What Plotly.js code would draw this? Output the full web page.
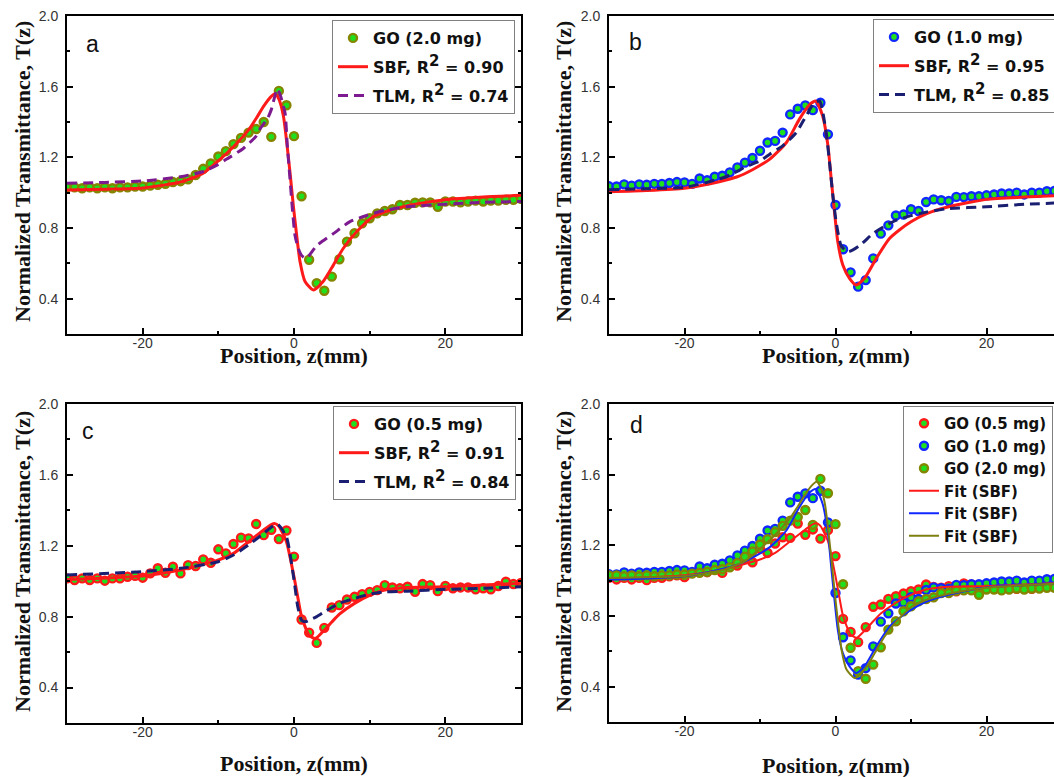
<!DOCTYPE html>
<html>
<head>
<meta charset="utf-8">
<script src="https://cdn.plot.ly/plotly-3.0.1.min.js"></script>
<style>
html,body{margin:0;padding:0;overflow:hidden;background:#fff;}
#chart{width:1070px;height:777px;}
</style>
</head>
<body>
<div id="chart"></div>
<script>
// ---------- data ----------
const zPos = [-30,-29,-28,-27,-26,-25,-24,-23,-22,-21,-20,-19,-18,-17,-16,-15,-14,-13,-12,-11,-10,-9,-8,-7,-6,-5,-4,-3,-2,-1,0,1,2,3,4,5,6,7,8,9,10,11,12,13,14,15,16,17,18,19,20,21,22,23,24,25,26,27,28,29,30];

// GO (2.0 mg)
const go20 = [1.03,1.03,1.025,1.03,1.025,1.03,1.025,1.03,1.03,1.035,1.035,1.04,1.045,1.05,1.06,1.065,1.075,1.10,1.135,1.165,1.205,1.235,1.275,1.31,1.34,1.36,1.40,1.316,1.576,1.495,1.32,0.98,0.62,0.488,0.445,0.525,0.623,0.723,0.77,0.827,0.855,0.883,0.896,0.906,0.93,0.93,0.943,0.945,0.945,0.92,0.95,0.95,0.945,0.95,0.955,0.95,0.955,0.955,0.96,0.96,0.965];
// GO (1.0 mg)
const go10 = [1.036,1.035,1.047,1.04,1.047,1.045,1.05,1.05,1.055,1.06,1.058,1.05,1.08,1.07,1.09,1.096,1.115,1.143,1.17,1.196,1.237,1.284,1.293,1.34,1.443,1.475,1.494,1.467,1.509,1.33,0.93,0.68,0.549,0.468,0.505,0.628,0.768,0.815,0.871,0.876,0.906,0.896,0.947,0.962,0.957,0.953,0.976,0.975,0.98,0.98,0.985,0.99,0.995,0.995,1.0,0.99,1.0,1.0,1.008,1.01,1.01];
// GO (0.5 mg)
const go05 = [1.016,1.007,1.016,1.007,1.016,1.003,1.016,1.016,1.025,1.03,1.02,1.044,1.073,1.048,1.082,1.044,1.091,1.086,1.123,1.104,1.18,1.157,1.21,1.246,1.242,1.323,1.26,1.29,1.238,1.286,1.139,0.784,0.71,0.652,0.737,0.852,0.865,0.897,0.912,0.927,0.94,0.95,0.978,0.965,0.96,0.969,0.94,0.984,0.978,0.944,0.973,0.96,0.965,0.965,0.954,0.96,0.954,0.973,0.997,0.984,0.99];

// SBF fit, 2.0 mg
const sbf20_z = [-30,-25,-20,-15,-12,-10,-8,-6,-5,-4,-3,-2.5,-2,-1.4,-0.53,-0.09,0.35,0.8,1.46,2.56,3.9,5.2,6.5,8.3,10.5,13,16,20,25,30];
const sbf20_T = [1.015,1.02,1.027,1.06,1.11,1.18,1.26,1.355,1.42,1.49,1.545,1.56,1.53,1.434,1.115,0.927,0.759,0.609,0.497,0.449,0.50,0.59,0.684,0.78,0.865,0.905,0.935,0.96,0.975,0.985];
// TLM fit, 2.0 mg
const tlm20_z = [-30,-25,-20,-15,-12,-10,-8.9,-6.7,-5,-4.5,-3.5,-3,-2.2,-1.8,-1.19,-0.88,-0.53,-0.18,0.13,0.57,1.0,1.6,3.0,5.2,7.4,9.6,12,15,20,25,30];
const tlm20_T = [1.053,1.058,1.066,1.09,1.12,1.16,1.19,1.25,1.32,1.36,1.42,1.47,1.588,1.55,1.453,1.265,1.078,0.89,0.759,0.684,0.645,0.628,0.70,0.768,0.836,0.871,0.90,0.92,0.935,0.945,0.95];

// SBF fit, 1.0 mg
const sbf10_z = [-30,-25,-20,-15.4,-13,-11,-8.7,-6.5,-4.8,-3.4,-2.6,-1.7,-1.0,-0.57,-0.13,0.31,0.97,1.85,2.74,3.84,5.4,7.15,8.5,10,12,15,20,25,30];
const sbf10_T = [1.005,1.012,1.025,1.062,1.09,1.13,1.19,1.284,1.415,1.50,1.518,1.434,1.265,1.078,0.89,0.72,0.59,0.515,0.477,0.515,0.628,0.74,0.79,0.835,0.88,0.92,0.962,0.975,0.985];
// TLM fit, 1.0 mg
const tlm10_z = [-30,-25,-20,-16,-14,-12,-10,-8.7,-7,-5.2,-3.9,-2.8,-2.1,-1.24,-0.79,-0.35,0.09,0.75,1.63,3.18,4.94,6.7,8,10,12,15,20,25,30];
const tlm10_T = [1.017,1.022,1.03,1.07,1.098,1.145,1.18,1.218,1.265,1.34,1.434,1.509,1.518,1.34,1.17,0.984,0.834,0.70,0.665,0.70,0.768,0.815,0.843,0.87,0.89,0.91,0.92,0.934,0.943];

// SBF fit, 0.5 mg
const sbf05_z = [-30,-20,-15,-10,-8,-6,-4,-3,-2.5,-2,-1,0,0.5,1,2,2.8,4,5,6,8,10,12,15,20,25,30];
const sbf05_T = [1.01,1.03,1.063,1.12,1.157,1.223,1.29,1.32,1.325,1.31,1.223,1.025,0.91,0.80,0.695,0.677,0.724,0.77,0.814,0.875,0.92,0.95,0.965,0.969,0.978,0.988];
// TLM fit, 0.5 mg
const tlm05_z = [-30,-20,-15,-10,-8,-6,-4,-3,-2.2,-1,0,0.5,1,1.5,2,3,4,5,6,8,10,12,15,20,25,30];
const tlm05_T = [1.035,1.054,1.073,1.11,1.148,1.205,1.27,1.305,1.323,1.25,1.007,0.856,0.78,0.771,0.78,0.80,0.827,0.852,0.875,0.903,0.927,0.94,0.944,0.954,0.96,0.969];

// tick labels
const xTickVals = [-20, 0, 20];
const xTickText = ['-20', '0', '20'];
const yTickVals = [0.4, 0.8, 1.2, 1.6, 2.0];
const yTickText = ['0.4', '0.8', '1.2', '1.6', '2.0'];

const panelLabels = ['a','b','c','d'];
const SUP2 = '<sup><span style="font-size:15px">2</span></sup>';
const legendNames = {
  go20:'<b>GO (2.0 mg)</b>', go10:'<b>GO (1.0 mg)</b>', go05:'<b>GO (0.5 mg)</b>',
  sbfA:'<b>SBF, R'+SUP2+' = 0.90</b>', tlmA:'<b>TLM, R'+SUP2+' = 0.74</b>',
  sbfB:'<b>SBF, R'+SUP2+' = 0.95</b>', tlmB:'<b>TLM, R'+SUP2+' = 0.85</b>',
  sbfC:'<b>SBF, R'+SUP2+' = 0.91</b>', tlmC:'<b>TLM, R'+SUP2+' = 0.84</b>',
  fit:'<b>Fit (SBF)</b>'
};
const yTitle = 'Normalized Transmittance, T(z)';
const xTitle = 'Position, z(mm)';

// ---------- styles ----------
const W = 1070, H = 777;
const GREEN = '#1fe01f';
const C_OLIVE = '#858500', C_BLUE = '#1028ff', C_RED = '#ff1a1a';
const C_PURPLE = '#7d1a8f', C_NAVY = '#1a1f72';

function dots(x, y, name, edge, xa, ya, leg, grp){
  return {type:'scatter', mode:'markers', x, y, name, xaxis:xa, yaxis:ya, legend:leg, legendgroup:grp,
    marker:{size:8, color:GREEN, line:{color:edge, width:2.4}}, cliponaxis:true};
}
function line(x, y, name, color, width, dash, xa, ya, leg, grp){
  return {type:'scatter', mode:'lines', x, y, name, xaxis:xa, yaxis:ya, legend:leg, legendgroup:grp,
    line:{color, width, dash: dash || 'solid', shape:'spline', smoothing:0.6}};
}
const DASH = '10px,6px';

const traces = [
  dots(zPos, go20, legendNames.go20, C_OLIVE, 'x', 'y', 'legend', 'a1'),
  line(sbf20_z, sbf20_T, legendNames.sbfA, C_RED, 3, null, 'x', 'y', 'legend', 'a2'),
  line(tlm20_z, tlm20_T, legendNames.tlmA, C_PURPLE, 3, DASH, 'x', 'y', 'legend', 'a3'),

  dots(zPos, go10, legendNames.go10, C_BLUE, 'x2', 'y2', 'legend2', 'b1'),
  line(sbf10_z, sbf10_T, legendNames.sbfB, C_RED, 3, null, 'x2', 'y2', 'legend2', 'b2'),
  line(tlm10_z, tlm10_T, legendNames.tlmB, C_NAVY, 3, DASH, 'x2', 'y2', 'legend2', 'b3'),

  dots(zPos, go05, legendNames.go05, C_RED, 'x3', 'y3', 'legend3', 'c1'),
  line(sbf05_z, sbf05_T, legendNames.sbfC, C_RED, 3, null, 'x3', 'y3', 'legend3', 'c2'),
  line(tlm05_z, tlm05_T, legendNames.tlmC, C_NAVY, 3, DASH, 'x3', 'y3', 'legend3', 'c3'),

  dots(zPos, go05, legendNames.go05, C_RED, 'x4', 'y4', 'legend4', 'd1'),
  dots(zPos, go10, legendNames.go10, C_BLUE, 'x4', 'y4', 'legend4', 'd2'),
  dots(zPos, go20, legendNames.go20, C_OLIVE, 'x4', 'y4', 'legend4', 'd3'),
  line(sbf05_z, sbf05_T, legendNames.fit, C_RED, 2, null, 'x4', 'y4', 'legend4', 'd4'),
  line(sbf10_z, sbf10_T, legendNames.fit, C_BLUE, 2, null, 'x4', 'y4', 'legend4', 'd5'),
  line(sbf20_z, sbf20_T, legendNames.fit, '#7f7f10', 2, null, 'x4', 'y4', 'legend4', 'd6')
];

const tickFont = {family:'Liberation Sans, Arial, sans-serif', size:14, color:'#333'};
function xax(l, r, anchor){
  return {domain:[l/W, r/W], anchor, range:[-30,30], tickmode:'array', tickvals:xTickVals, ticktext:xTickText,
    ticks:'inside', ticklen:6, tickwidth:2, tickcolor:'#000', showline:true, linewidth:2, linecolor:'#000',
    mirror:true, showgrid:false, zeroline:false, tickfont:tickFont, ticklabelstandoff:-5,
    minor:{tickmode:'linear', tick0:0, dtick:10, ticks:'inside', ticklen:3, tickwidth:2, tickcolor:'#000', showgrid:false}};
}
function yax(top, bottom, anchor){
  return {domain:[(H-bottom)/H, (H-top)/H], anchor, range:[0.2,2.0], tickmode:'array', tickvals:yTickVals, ticktext:yTickText,
    ticks:'inside', ticklen:6, tickwidth:2, tickcolor:'#000', showline:true, linewidth:2,
    linecolor:'#000', mirror:'ticks', showgrid:false, zeroline:false, tickfont:tickFont, ticklabelstandoff:4,
    minor:{tickmode:'linear', tick0:0, dtick:0.2, ticks:'inside', ticklen:3, tickwidth:2, tickcolor:'#000', showgrid:false}};
}
function legendAt(left, top, gap, size){
  return {x:left/W, xanchor:'left', y:(H-top)/H, yanchor:'top', bgcolor:'#fff', bordercolor:'#808080',
    borderwidth:1, font:{family:'DejaVu Sans, sans-serif', size:size, color:'#111'},
    traceorder:'grouped', tracegroupgap:gap, itemwidth:30};
}

const annFontTitle = {family:'Liberation Serif, Times New Roman, serif', size:22, color:'#111'};
const annotations = [];
function ann(text, x, y, font, angle){
  annotations.push({text, x:x/W, y:(H-y)/H, xref:'paper', yref:'paper', showarrow:false,
    xanchor:'center', yanchor:'middle', font, textangle:angle||0});
}
// panel letters
const lblFont = {family:'Liberation Sans, Arial, sans-serif', size:23, color:'#111'};
ann(panelLabels[0], 92, 44, lblFont);
ann(panelLabels[1], 635, 42, lblFont);
ann(panelLabels[2], 88, 431, lblFont);
ann(panelLabels[3], 636, 425, lblFont);
// axis titles
ann('<b>'+yTitle+'</b>', 22, 172, annFontTitle, -90);
ann('<b>'+yTitle+'</b>', 563, 172, annFontTitle, -90);
ann('<b>'+yTitle+'</b>', 22, 562, annFontTitle, -90);
ann('<b>'+yTitle+'</b>', 563, 562, annFontTitle, -90);
ann('<b>'+xTitle+'</b>', 294, 355, annFontTitle);
ann('<b>'+xTitle+'</b>', 836, 355, annFontTitle);
ann('<b>'+xTitle+'</b>', 294, 763, annFontTitle);
ann('<b>'+xTitle+'</b>', 836, 765, annFontTitle);

const layout = {
  width:W, height:H, margin:{l:0, r:0, t:0, b:0}, paper_bgcolor:'#fff', plot_bgcolor:'#fff',
  showlegend:true, hovermode:false,
  xaxis: xax(67, 521, 'y'),  yaxis: yax(16, 334, 'x'),
  xaxis2: xax(609, 1062, 'y2'), yaxis2: yax(16, 334, 'x2'),
  xaxis3: xax(67, 521, 'y3'), yaxis3: yax(404, 723, 'x3'),
  xaxis4: xax(609, 1062, 'y4'), yaxis4: yax(404, 722, 'x4'),
  legend: legendAt(332, 20, 5, 16),
  legend2: legendAt(873, 19, 5, 16),
  legend3: legendAt(333, 406, 5, 16),
  legend4: legendAt(903, 406, 0, 15),
  annotations
};

Plotly.newPlot('chart', traces, layout, {staticPlot:true, displayModeBar:false});
</script>
</body>
</html>
